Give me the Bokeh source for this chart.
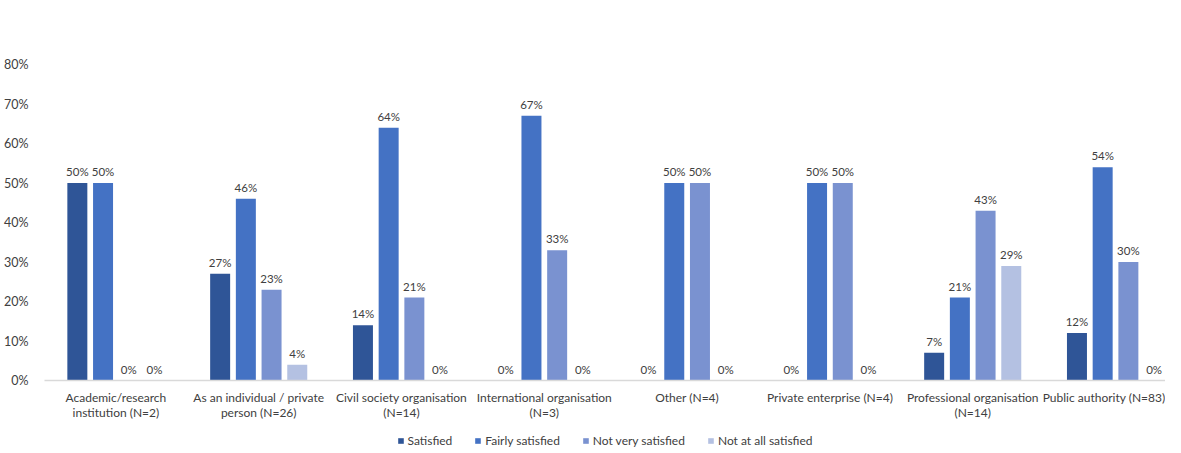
from bokeh.plotting import figure
from bokeh.layouts import column
from bokeh.models import ColumnDataSource, Range1d, FixedTicker, Legend, LegendItem
from bokeh.transform import dodge
from bokeh.core.properties import value
from bokeh.embed import file_html
from bokeh.resources import INLINE

categories = [
    "Academic/research\ninstitution (N=2)",
    "As an individual / private\nperson (N=26)",
    "Civil society organisation\n(N=14)",
    "International organisation\n(N=3)",
    "Other (N=4)",
    "Private enterprise (N=4)",
    "Professional organisation\n(N=14)",
    "Public authority (N=83)",
]
series_names = ["Satisfied", "Fairly satisfied", "Not very satisfied", "Not at all satisfied"]
satisfied = [50, 27, 14, 0, 0, 0, 7, 12]
fairly_satisfied = [50, 46, 64, 67, 50, 50, 21, 54]
not_very_satisfied = [0, 23, 21, 33, 50, 50, 43, 30]
not_at_all_satisfied = [0, 4, 0, 0, 0, 0, 29, 0]
y_ticks = [0, 10, 20, 30, 40, 50, 60, 70, 80]

series_values = [satisfied, fairly_satisfied, not_very_satisfied, not_at_all_satisfied]
colors = ["#2F5597", "#4472C4", "#7A92D0", "#B4C1E2"]
offsets = [-0.27, -0.09, 0.09, 0.27]

FONT = "Lato"
TXT = "#404040"

p = figure(width=1165, height=426, output_backend="svg", toolbar_location=None,
           x_range=Range1d(0, 7.85), y_range=Range1d(0, 80),
           min_border_left=37, min_border_right=0, min_border_top=64, min_border_bottom=46)
p.outline_line_color = None
p.xgrid.grid_line_color = None
p.ygrid.grid_line_color = None

centers = [i + 0.5 for i in range(len(categories))]

for name, vals, col, off in zip(series_names, series_values, colors, offsets):
    src = ColumnDataSource(dict(x=centers, y=vals, lab=[f"{v}%" for v in vals]))
    p.vbar(x=dodge("x", off), top="y", width=0.14, source=src,
           fill_color=col, line_color=None)
    p.text(x=dodge("x", off), y="y", text="lab", source=src,
           text_align="center", text_baseline="bottom", y_offset=-5,
           text_font=value(FONT), text_font_size="11.5px", text_color=TXT)

# axes
p.yaxis.ticker = FixedTicker(ticks=y_ticks)
p.yaxis.major_label_overrides = {t: f"{t}%" for t in y_ticks}
p.yaxis.axis_line_color = None
p.yaxis.major_tick_line_color = None
p.yaxis.minor_tick_line_color = None
p.yaxis.major_label_text_font = FONT
p.yaxis.major_label_text_font_size = "12.5px"
p.yaxis.major_label_text_color = TXT
p.yaxis.major_label_standoff = 10

p.xaxis.ticker = FixedTicker(ticks=centers)
p.xaxis.major_label_overrides = {c: lab for c, lab in zip(centers, categories)}
p.xaxis.axis_line_color = "#D9D9D9"
p.xaxis.axis_line_width = 1.5
p.xaxis.major_tick_line_color = None
p.xaxis.minor_tick_line_color = None
p.xaxis.major_label_text_font = FONT
p.xaxis.major_label_text_font_size = "12px"
p.xaxis.major_label_text_color = TXT
p.xaxis.major_label_standoff = 3
p.xaxis.major_label_text_line_height = 1.05

# legend strip
lg = figure(width=1165, height=24, output_backend="svg", toolbar_location=None,
            x_range=Range1d(0, 1), y_range=Range1d(0, 1),
            x_axis_location=None, y_axis_location=None,
            min_border_left=0, min_border_right=0, min_border_top=0, min_border_bottom=0)
lg.outline_line_color = None
lg.xgrid.grid_line_color = None
lg.ygrid.grid_line_color = None
items = []
for name, col in zip(series_names, colors):
    r = lg.vbar(x=[float("nan")], top=[float("nan")], width=0.1, fill_color=col, line_color=None)
    items.append(LegendItem(label=name, renderers=[r]))
legend = Legend(items=items, orientation="horizontal", location="bottom_center",
                label_text_font=FONT, label_text_font_size="12px", label_text_color=TXT,
                glyph_width=7, glyph_height=7, label_standoff=4, spacing=22,
                border_line_color=None, background_fill_alpha=0, padding=0, margin=2)
lg.add_layout(legend, "center")

layout = column(p, lg, spacing=0)
open("out.html", "w").write(file_html(layout, INLINE))
